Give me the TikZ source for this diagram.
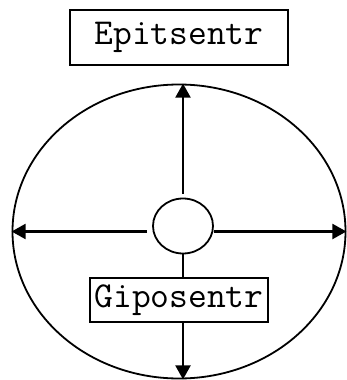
\documentclass[tikz,border=0pt]{standalone}
\usepackage{tikz}
\usetikzlibrary{shapes,arrows.meta,positioning,calc}

\begin{document}
\begin{tikzpicture}[
    x=1pt, y=-1pt,
    field/.style={draw, line width=1.8pt, ellipse, minimum width=333pt, minimum height=294pt, inner sep=0pt},
    hub/.style={draw, line width=1.8pt, ellipse, minimum width=60pt, minimum height=55pt, inner sep=0pt},
    label/.style={draw, line width=1.5pt, inner sep=0pt, font=\ttfamily\fontsize{36.5}{40}\selectfont},
    arrow/.style={-{Triangle[length=14pt,width=15pt]}, line width=2.2pt},
    link/.style={line width=2.2pt}
]
\useasboundingbox (0,0) rectangle (346,380);

% Outer zone and centre
\node[field] (field) at (179,231.5) {};
\node[hub] (hub) at (183,226) {};

% Labels
\node[label, minimum width=218pt, minimum height=55pt] (epi) at (179,37.5) {Epitsentr};
\node[label, minimum width=178pt, minimum height=44pt] (gipo) at (179,300) {Giposentr};

% Arrows from the centre
\draw[arrow, shorten <=4pt] (hub.north) -- (hub.north |- field.north);
\draw[arrow, shorten <=5pt] (hub.west |- field.west) -- (field.west);
\draw[arrow] (hub.east |- field.east) -- (field.east);
\draw[link] (hub.south) -- (hub.south |- gipo.north);
\draw[arrow] (gipo.south -| hub.south) -- (hub.south |- field.south);

\end{tikzpicture}
\end{document}
